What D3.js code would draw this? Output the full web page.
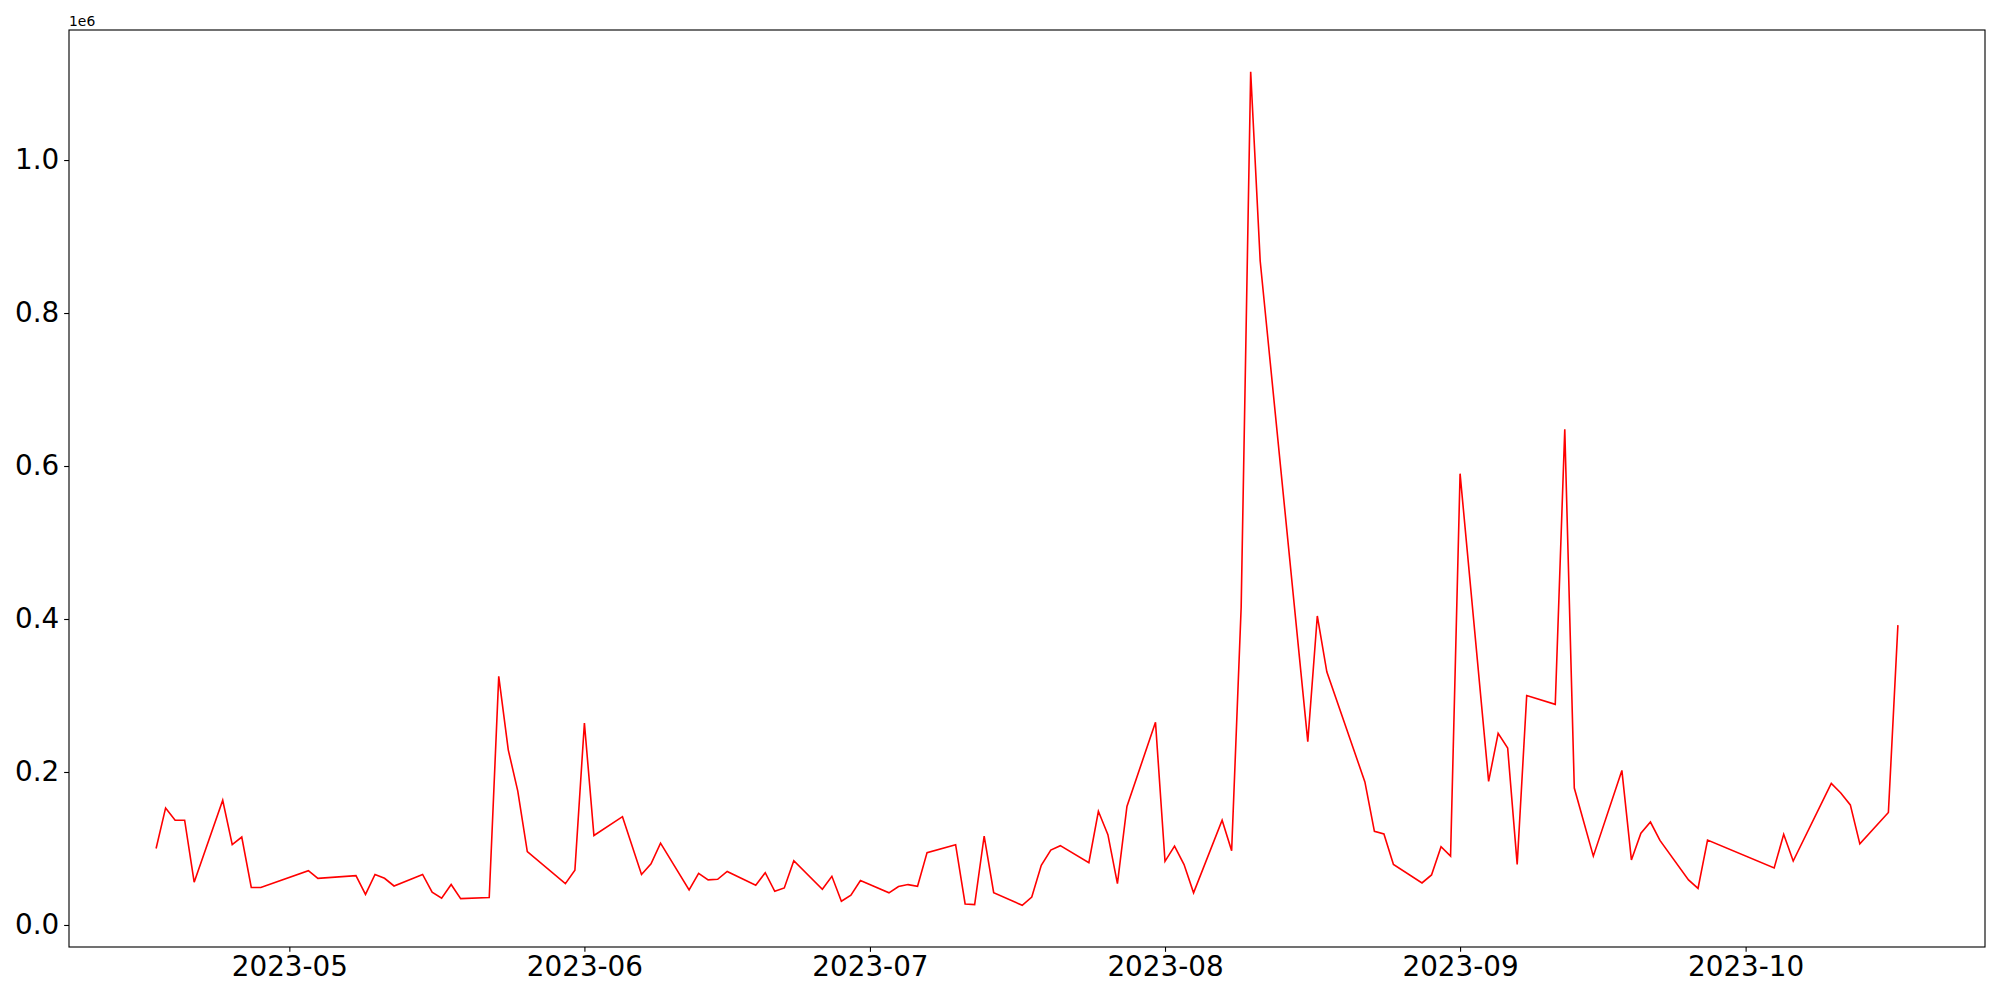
<!DOCTYPE html>
<html>
<head>
<meta charset="utf-8">
<script src="https://cdn.jsdelivr.net/npm/d3@7"></script>
<style>
  body { margin: 0; background: #fff; }
  svg { display: block; font-family: "DejaVu Sans", sans-serif; }
</style>
</head>
<body>
<script>

// dates of the series
var dates = [
  "2023-04-17","2023-04-18","2023-04-19","2023-04-20","2023-04-21",
  "2023-04-24","2023-04-25","2023-04-26","2023-04-27","2023-04-28",
  "2023-05-03","2023-05-04","2023-05-08","2023-05-09","2023-05-10","2023-05-11","2023-05-12",
  "2023-05-15","2023-05-16","2023-05-17","2023-05-18","2023-05-19",
  "2023-05-22","2023-05-23","2023-05-24","2023-05-25","2023-05-26",
  "2023-05-30","2023-05-31","2023-06-01","2023-06-02",
  "2023-06-05","2023-06-07","2023-06-08","2023-06-09",
  "2023-06-12","2023-06-13","2023-06-14","2023-06-15","2023-06-16",
  "2023-06-19","2023-06-20","2023-06-21","2023-06-22","2023-06-23",
  "2023-06-26","2023-06-27","2023-06-28","2023-06-29","2023-06-30",
  "2023-07-03","2023-07-04","2023-07-05","2023-07-06","2023-07-07",
  "2023-07-10","2023-07-11","2023-07-12","2023-07-13","2023-07-14",
  "2023-07-17","2023-07-18","2023-07-19","2023-07-20","2023-07-21",
  "2023-07-24","2023-07-25","2023-07-26","2023-07-27","2023-07-28",
  "2023-07-31","2023-08-01","2023-08-02","2023-08-03","2023-08-04",
  "2023-08-07","2023-08-08","2023-08-09","2023-08-10","2023-08-11",
  "2023-08-16","2023-08-17","2023-08-18",
  "2023-08-22","2023-08-23","2023-08-24","2023-08-25",
  "2023-08-28","2023-08-29","2023-08-30","2023-08-31","2023-09-01",
  "2023-09-04","2023-09-05","2023-09-06","2023-09-07","2023-09-08",
  "2023-09-11","2023-09-12","2023-09-13","2023-09-15",
  "2023-09-18","2023-09-19","2023-09-20","2023-09-21","2023-09-22",
  "2023-09-25","2023-09-26","2023-09-27",
  "2023-10-04","2023-10-05","2023-10-06",
  "2023-10-10","2023-10-11","2023-10-12","2023-10-13",
  "2023-10-16","2023-10-17"
];

var values = [
  100000,153000,137000,137000,56000,
  163000,105000,115000,49000,49000,
  71000,61000,64500,40000,66000,61000,51000,
  66000,43000,35000,53000,34500,
  36000,325000,229000,175000,96000,
  54000,71500,264000,117000,
  141600,66000,80000,107000,
  45700,67500,59000,59700,70000,
  52000,68400,44000,48400,84000,
  46600,63600,31000,39000,58000,
  42000,50300,52800,50600,94600,
  105000,27500,26600,116300,42300,
  25700,36600,78000,98000,103700,
  81500,148600,118000,54000,155000,
  265000,83200,103000,79000,42000,
  137000,97000,415000,1115500,868000,
  239600,404000,331000,
  187000,122400,119000,79000,
  54900,65400,102400,90000,590000,
  187800,250500,231300,79000,300000,
  288400,648000,179000,90000,
  202100,85000,120000,134600,110500,
  59000,47800,111000,
  74500,118500,83600,
  185000,172600,157000,106000,
  147000,392000
];

var yTicks = [0, 200000, 400000, 600000, 800000, 1000000];

var parseDate = d3.utcParse("%Y-%m-%d");
var data = dates.map(function(d, i) { return [parseDate(d), values[i]]; });

var width = 2000, height = 1000;
var plotLeft = 69, plotRight = 1985, plotTop = 30, plotBottom = 947;
var pt = 100 / 72;

var svg = d3.select("body").append("svg")
  .attr("width", width)
  .attr("height", height);

// matplotlib style 5% margins
var xExt = d3.extent(data, function(d) { return d[0]; });
var xPad = (xExt[1] - xExt[0]) * 0.05;
var x = d3.scaleUtc()
  .domain([new Date(+xExt[0] - xPad), new Date(+xExt[1] + xPad)])
  .range([plotLeft, plotRight]);

var yExt = d3.extent(data, function(d) { return d[1]; });
var yPad = (yExt[1] - yExt[0]) * 0.05;
var y = d3.scaleLinear()
  .domain([yExt[0] - yPad, yExt[1] + yPad])
  .range([plotBottom, plotTop]);

var line = d3.line()
  .x(function(d) { return x(d[0]); })
  .y(function(d) { return y(d[1]); });

svg.append("path")
  .datum(data)
  .attr("d", line)
  .attr("fill", "none")
  .attr("stroke", "#ff0000")
  .attr("stroke-width", 1.6)
  .attr("stroke-linejoin", "miter");

var xAxis = d3.axisBottom(x)
  .ticks(d3.utcMonth.every(1))
  .tickFormat(d3.utcFormat("%Y-%m"))
  .tickSize(3.5 * pt)
  .tickPadding(3.5 * pt);

var yAxis = d3.axisLeft(y)
  .tickValues(yTicks)
  .tickFormat(function(d) { return (d / 1e6).toFixed(1); })
  .tickSize(3.5 * pt)
  .tickPadding(3.5 * pt);

var gx = svg.append("g")
  .attr("transform", "translate(0," + plotBottom + ")")
  .call(xAxis);
var gy = svg.append("g")
  .attr("transform", "translate(" + plotLeft + ",0)")
  .call(yAxis);

[gx, gy].forEach(function(g) {
  g.select(".domain").remove();
  g.selectAll(".tick line").attr("stroke", "#000").attr("stroke-width", 0.8 * pt);
  g.selectAll(".tick text")
    .attr("fill", "#000")
    .style("font-family", "'DejaVu Sans', sans-serif")
    .style("font-size", "27.8px");
});

// axes frame
svg.append("rect")
  .attr("x", plotLeft)
  .attr("y", plotTop)
  .attr("width", plotRight - plotLeft)
  .attr("height", plotBottom - plotTop)
  .attr("fill", "none")
  .attr("stroke", "#000")
  .attr("stroke-width", 0.8 * pt);

// offset text
svg.append("text")
  .attr("x", plotLeft)
  .attr("y", plotTop - 4)
  .attr("font-size", "13.9px")
  .attr("fill", "#000")
  .text("1e6");

</script>
</body>
</html>
